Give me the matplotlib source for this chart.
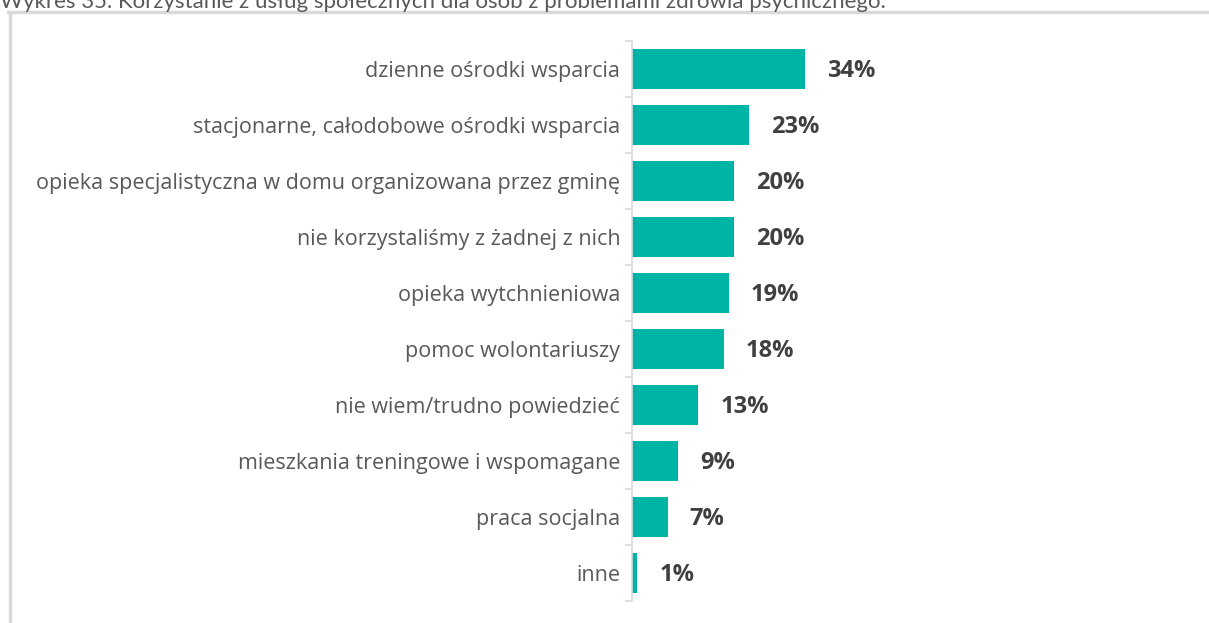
import matplotlib.pyplot as plt
from matplotlib.lines import Line2D

categories = [
    "dzienne ośrodki wsparcia",
    "stacjonarne, całodobowe ośrodki wsparcia",
    "opieka specjalistyczna w domu organizowana przez gminę",
    "nie korzystaliśmy z żadnej z nich",
    "opieka wytchnieniowa",
    "pomoc wolontariuszy",
    "nie wiem/trudno powiedzieć",
    "mieszkania treningowe i wspomagane",
    "praca socjalna",
    "inne",
]
values = [34, 23, 20, 20, 19, 18, 13, 9, 7, 1]
title = "Wykres 35. Korzystanie z usług społecznych dla osób z problemami zdrowia psychicznego."

W, H = 1209, 623
BAR = "#00B4A5"
FONT = "Open Sans"

fig = plt.figure(figsize=(W / 100, H / 100), dpi=100)
fig.patch.set_facecolor("white")

# frame around the chart area
fig.add_artist(Line2D([9.5 / W, 9.5 / W], [0, 1 - 11.5 / H], transform=fig.transFigure,
                      color="#d9d9d9", lw=2.4))
fig.add_artist(Line2D([8 / W, 1], [1 - 12 / H, 1 - 12 / H], transform=fig.transFigure,
                      color="#d9d9d9", lw=2.4))

# title, partly above the top edge
fig.text(0 / W, 1 - 8 / H, title, ha="left", va="baseline", fontsize=16,
         color="#595959", family="Lato")

x0, x1 = 632, 1142
y0, y1 = 41, 601
ax = fig.add_axes([x0 / W, 1 - y1 / H, (x1 - x0) / W, (y1 - y0) / H])
pos = list(range(len(categories)))
ax.barh(pos, values, height=0.71, color=BAR)
ax.set_xlim(0, 100)
ax.set_ylim(len(categories) - 0.5, -0.5)

for s in ["top", "right", "bottom"]:
    ax.spines[s].set_visible(False)
ax.spines["left"].set_color("#d9d9d9")
ax.spines["left"].set_linewidth(1.2)
ax.set_xticks([])
ax.set_yticks(pos)
ax.set_yticklabels(categories, fontsize=15.5, color="#595959", family=FONT)
ax.tick_params(axis="y", which="major", length=0, pad=8.5)
ax.set_yticks([p - 0.5 for p in pos] + [len(pos) - 0.5], minor=True)
ax.tick_params(axis="y", which="minor", length=5, color="#d9d9d9", width=1.2)
ax.patch.set_alpha(0)

for p, v in zip(pos, values):
    ax.text(v + 22 / 5.1, p + 0.04, f"{v}%", ha="left", va="center", fontsize=17,
            fontweight="bold", color="#404040", family=FONT)

fig.savefig("out.png", dpi=100)
